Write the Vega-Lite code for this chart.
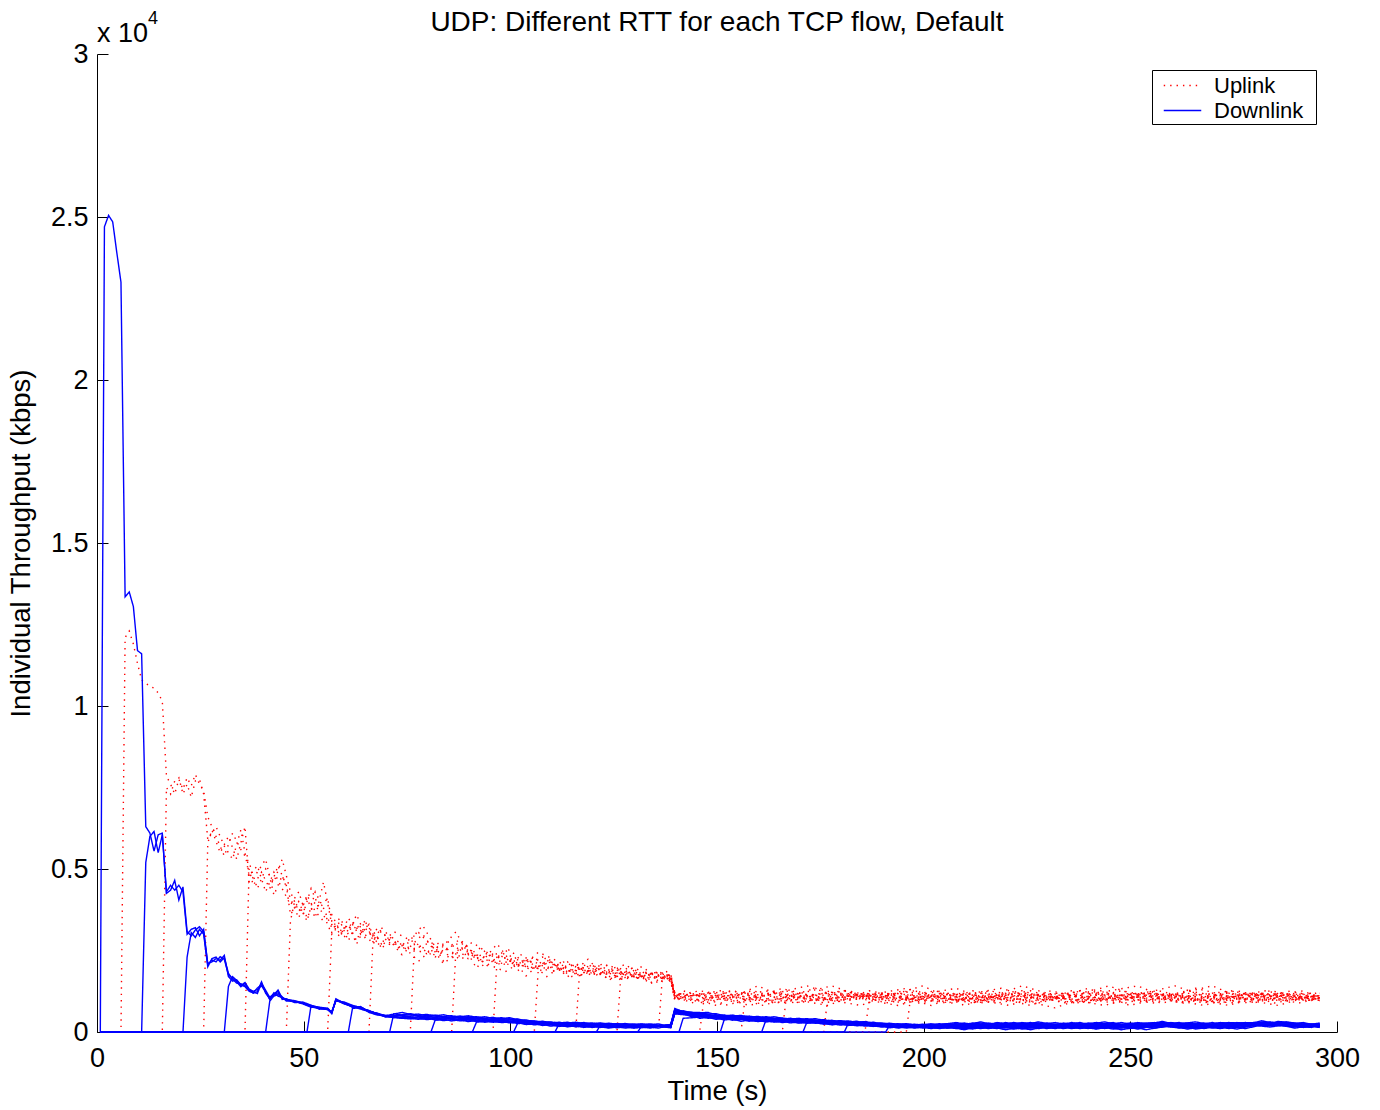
{
"$schema": "https://vega.github.io/schema/vega-lite/v6.json",
"width": 1240, "height": 978,
"autosize": {"type": "none"},
"padding": {"left": 97, "top": 54, "right": 43, "bottom": 78},
"background": "white",
"title": {"text": "UDP: Different RTT for each TCP flow, Default", "font": "Liberation Sans", "fontSize": 28, "fontWeight": "normal", "color": "black", "anchor": "middle", "frame": "group", "offset": 0, "dy": 27},
"config": {"view": {"stroke": null}, "font": "Liberation Sans",
  "axis": {"grid": false, "domainColor": "black", "tickColor": "black", "labelColor": "black", "titleColor": "black", "labelFont": "Liberation Sans", "titleFont": "Liberation Sans", "labelFontSize": 27, "titleFontSize": 27.5, "titleFontWeight": "normal", "tickSize": -11, "labelFlush": false, "labelOverlap": false}
},
"datasets": {
"down": [
{"f":1,"t":0.8,"v":0},{"f":1,"t":1.8,"v":24700},{"f":1,"t":2.8,"v":25050},{"f":1,"t":3.8,"v":24850},{"f":1,"t":4.8,"v":23900},{"f":1,"t":5.8,"v":23000},{"f":1,"t":6.8,"v":13350},{"f":1,"t":7.8,"v":13500},{"f":1,"t":8.8,"v":13050},{"f":1,"t":9.8,"v":11700},{"f":1,"t":10.8,"v":11600},{"f":1,"t":11.8,"v":6300},{"f":1,"t":12.8,"v":6100},{"f":1,"t":13.8,"v":5550},{"f":1,"t":14.8,"v":6050},{"f":1,"t":15.8,"v":6100},{"f":1,"t":16.8,"v":4250},{"f":1,"t":17.8,"v":4350},{"f":1,"t":18.8,"v":4650},{"f":1,"t":19.8,"v":4050},{"f":1,"t":20.8,"v":4450},{"f":1,"t":21.8,"v":3080},{"f":1,"t":22.8,"v":2950},{"f":1,"t":23.8,"v":3130},{"f":1,"t":24.8,"v":3230},{"f":1,"t":25.8,"v":3080},{"f":1,"t":26.8,"v":2060},{"f":1,"t":27.8,"v":2210},{"f":1,"t":28.8,"v":2150},{"f":1,"t":29.8,"v":2310},{"f":1,"t":30.8,"v":2230},{"f":1,"t":31.8,"v":1750},{"f":1,"t":32.8,"v":1650},{"f":1,"t":33.8,"v":1540},{"f":1,"t":34.8,"v":1390},{"f":1,"t":35.8,"v":1490},{"f":1,"t":36.8,"v":1290},{"f":1,"t":37.8,"v":1190},{"f":1,"t":38.8,"v":1240},{"f":1,"t":39.8,"v":1540},{"f":1,"t":40.8,"v":1190},{"f":1,"t":41.8,"v":1030},{"f":1,"t":42.8,"v":1130},{"f":1,"t":43.8,"v":1290},{"f":1,"t":44.8,"v":1030},{"f":1,"t":45.8,"v":980},{"f":1,"t":47.8,"v":930},{"f":1,"t":49.8,"v":880},{"f":1,"t":51.8,"v":780},{"f":1,"t":53.8,"v":720},{"f":1,"t":55.8,"v":700},{"f":1,"t":56.8,"v":620},{"f":1,"t":57.8,"v":980},{"f":1,"t":59.8,"v":900},{"f":1,"t":61.8,"v":800},{"f":1,"t":63.8,"v":760},{"f":1,"t":65.8,"v":640},{"f":1,"t":67.8,"v":560},{"f":1,"t":69.8,"v":500},
{"f":1,"t":73.8,"v":600},{"f":1,"t":81.8,"v":370},{"f":1,"t":89.8,"v":500},{"f":1,"t":97.8,"v":300},{"f":1,"t":105.8,"v":330},{"f":1,"t":113.8,"v":160},{"f":1,"t":121.8,"v":280},{"f":1,"t":129.8,"v":130},{"f":1,"t":138.8,"v":210},{"f":1,"t":139.8,"v":720},{"f":1,"t":145.8,"v":420},{"f":1,"t":153.8,"v":520},{"f":1,"t":161.8,"v":320},{"f":1,"t":169.8,"v":420},{"f":1,"t":177.8,"v":220},{"f":1,"t":185.8,"v":320},{"f":1,"t":193.8,"v":120},{"f":1,"t":201.8,"v":255},{"f":1,"t":209.8,"v":70},{"f":1,"t":217.8,"v":290},{"f":1,"t":225.8,"v":120},{"f":1,"t":233.8,"v":240},{"f":1,"t":241.8,"v":90},{"f":1,"t":249.8,"v":275},{"f":1,"t":257.8,"v":190},{"f":1,"t":265.8,"v":310},{"f":1,"t":273.8,"v":105},{"f":1,"t":281.8,"v":345},{"f":1,"t":289.8,"v":120},{"f":1,"t":295.8,"v":240},
{"f":2,"t":0.8,"v":0},{"f":2,"t":10.8,"v":0},{"f":2,"t":11.8,"v":5200},{"f":2,"t":12.8,"v":6000},{"f":2,"t":13.8,"v":6150},{"f":2,"t":14.8,"v":5500},{"f":2,"t":15.8,"v":6050},{"f":2,"t":16.8,"v":4300},{"f":2,"t":17.8,"v":4500},{"f":2,"t":18.8,"v":4350},{"f":2,"t":19.8,"v":4500},{"f":2,"t":20.8,"v":4300},{"f":2,"t":21.8,"v":3000},{"f":2,"t":22.8,"v":3150},{"f":2,"t":23.8,"v":3200},{"f":2,"t":24.8,"v":2950},{"f":2,"t":25.8,"v":3150},{"f":2,"t":26.8,"v":2100},{"f":2,"t":27.8,"v":2150},{"f":2,"t":28.8,"v":2250},{"f":2,"t":29.8,"v":2200},{"f":2,"t":30.8,"v":2350},{"f":2,"t":31.8,"v":1700},{"f":2,"t":32.8,"v":1560},{"f":2,"t":33.8,"v":1600},{"f":2,"t":34.8,"v":1450},{"f":2,"t":35.8,"v":1390},{"f":2,"t":36.8,"v":1250},{"f":2,"t":37.8,"v":1200},{"f":2,"t":38.8,"v":1350},{"f":2,"t":39.8,"v":1450},{"f":2,"t":40.8,"v":1250},{"f":2,"t":41.8,"v":1000},{"f":2,"t":42.8,"v":1200},{"f":2,"t":43.8,"v":1100},{"f":2,"t":44.8,"v":1060},{"f":2,"t":45.8,"v":1000},{"f":2,"t":47.8,"v":960},{"f":2,"t":49.8,"v":900},{"f":2,"t":51.8,"v":800},{"f":2,"t":53.8,"v":760},{"f":2,"t":55.8,"v":730},{"f":2,"t":56.8,"v":560},{"f":2,"t":57.8,"v":1000},{"f":2,"t":59.8,"v":870},{"f":2,"t":61.8,"v":780},{"f":2,"t":63.8,"v":720},{"f":2,"t":65.8,"v":660},{"f":2,"t":67.8,"v":540},{"f":2,"t":69.8,"v":470},
{"f":2,"t":75.8,"v":400},{"f":2,"t":83.8,"v":530},{"f":2,"t":91.8,"v":320},{"f":2,"t":99.8,"v":440},{"f":2,"t":107.8,"v":200},{"f":2,"t":115.8,"v":300},{"f":2,"t":123.8,"v":120},{"f":2,"t":131.8,"v":250},{"f":2,"t":138.8,"v":140},{"f":2,"t":139.8,"v":560},{"f":2,"t":147.8,"v":600},{"f":2,"t":155.8,"v":330},{"f":2,"t":163.8,"v":470},{"f":2,"t":171.8,"v":270},{"f":2,"t":179.8,"v":350},{"f":2,"t":187.8,"v":170},{"f":2,"t":195.8,"v":255},{"f":2,"t":203.8,"v":105},{"f":2,"t":211.8,"v":275},{"f":2,"t":219.8,"v":70},{"f":2,"t":227.8,"v":240},{"f":2,"t":235.8,"v":155},{"f":2,"t":243.8,"v":310},{"f":2,"t":251.8,"v":90},{"f":2,"t":259.8,"v":290},{"f":2,"t":267.8,"v":140},{"f":2,"t":275.8,"v":255},{"f":2,"t":283.8,"v":155},{"f":2,"t":291.8,"v":290},{"f":2,"t":295.8,"v":175},
{"f":3,"t":0.8,"v":0},{"f":3,"t":20.8,"v":0},{"f":3,"t":21.8,"v":2300},{"f":3,"t":22.8,"v":3050},{"f":3,"t":23.8,"v":2900},{"f":3,"t":24.8,"v":3150},{"f":3,"t":25.8,"v":3000},{"f":3,"t":26.8,"v":2000},{"f":3,"t":27.8,"v":2250},{"f":3,"t":28.8,"v":2300},{"f":3,"t":29.8,"v":2150},{"f":3,"t":30.8,"v":2280},{"f":3,"t":31.8,"v":1800},{"f":3,"t":32.8,"v":1620},{"f":3,"t":33.8,"v":1500},{"f":3,"t":34.8,"v":1480},{"f":3,"t":35.8,"v":1420},{"f":3,"t":36.8,"v":1300},{"f":3,"t":37.8,"v":1230},{"f":3,"t":38.8,"v":1180},{"f":3,"t":39.8,"v":1500},{"f":3,"t":40.8,"v":1280},{"f":3,"t":41.8,"v":1060},{"f":3,"t":42.8,"v":1180},{"f":3,"t":43.8,"v":1250},{"f":3,"t":44.8,"v":1000},{"f":3,"t":45.8,"v":1020},{"f":3,"t":47.8,"v":900},{"f":3,"t":49.8,"v":920},{"f":3,"t":51.8,"v":820},{"f":3,"t":53.8,"v":700},{"f":3,"t":55.8,"v":710},{"f":3,"t":56.8,"v":600},{"f":3,"t":57.8,"v":950},{"f":3,"t":59.8,"v":920},{"f":3,"t":61.8,"v":820},{"f":3,"t":63.8,"v":740},{"f":3,"t":65.8,"v":620},{"f":3,"t":67.8,"v":580},{"f":3,"t":69.8,"v":480},
{"f":3,"t":77.8,"v":550},{"f":3,"t":85.8,"v":340},{"f":3,"t":93.8,"v":470},{"f":3,"t":101.8,"v":260},{"f":3,"t":109.8,"v":310},{"f":3,"t":117.8,"v":140},{"f":3,"t":125.8,"v":260},{"f":3,"t":133.8,"v":120},{"f":3,"t":138.8,"v":230},{"f":3,"t":139.8,"v":680},{"f":3,"t":141.8,"v":540},{"f":3,"t":149.8,"v":560},{"f":3,"t":157.8,"v":330},{"f":3,"t":165.8,"v":430},{"f":3,"t":173.8,"v":270},{"f":3,"t":181.8,"v":340},{"f":3,"t":189.8,"v":150},{"f":3,"t":197.8,"v":240},{"f":3,"t":205.8,"v":120},{"f":3,"t":213.8,"v":310},{"f":3,"t":221.8,"v":90},{"f":3,"t":229.8,"v":220},{"f":3,"t":237.8,"v":155},{"f":3,"t":245.8,"v":290},{"f":3,"t":253.8,"v":70},{"f":3,"t":261.8,"v":255},{"f":3,"t":269.8,"v":155},{"f":3,"t":277.8,"v":275},{"f":3,"t":285.8,"v":220},{"f":3,"t":293.8,"v":140},{"f":3,"t":295.8,"v":205},
{"f":4,"t":0.8,"v":0},{"f":4,"t":30.8,"v":0},{"f":4,"t":31.8,"v":1400},{"f":4,"t":32.8,"v":1700},{"f":4,"t":33.8,"v":1580},{"f":4,"t":34.8,"v":1420},{"f":4,"t":35.8,"v":1520},{"f":4,"t":36.8,"v":1320},{"f":4,"t":37.8,"v":1250},{"f":4,"t":38.8,"v":1300},{"f":4,"t":39.8,"v":1420},{"f":4,"t":40.8,"v":1220},{"f":4,"t":41.8,"v":1000},{"f":4,"t":42.8,"v":1150},{"f":4,"t":43.8,"v":1200},{"f":4,"t":44.8,"v":1080},{"f":4,"t":45.8,"v":950},{"f":4,"t":47.8,"v":940},{"f":4,"t":49.8,"v":860},{"f":4,"t":51.8,"v":760},{"f":4,"t":53.8,"v":740},{"f":4,"t":55.8,"v":680},{"f":4,"t":56.8,"v":580},{"f":4,"t":57.8,"v":1020},{"f":4,"t":59.8,"v":880},{"f":4,"t":61.8,"v":760},{"f":4,"t":63.8,"v":780},{"f":4,"t":65.8,"v":600},{"f":4,"t":67.8,"v":520},{"f":4,"t":69.8,"v":500},
{"f":4,"t":71.8,"v":440},{"f":4,"t":79.8,"v":540},{"f":4,"t":87.8,"v":340},{"f":4,"t":95.8,"v":450},{"f":4,"t":103.8,"v":230},{"f":4,"t":111.8,"v":300},{"f":4,"t":119.8,"v":140},{"f":4,"t":127.8,"v":260},{"f":4,"t":135.8,"v":120},{"f":4,"t":138.8,"v":200},{"f":4,"t":139.8,"v":580},{"f":4,"t":143.8,"v":610},{"f":4,"t":151.8,"v":370},{"f":4,"t":159.8,"v":480},{"f":4,"t":167.8,"v":280},{"f":4,"t":175.8,"v":380},{"f":4,"t":183.8,"v":190},{"f":4,"t":191.8,"v":270},{"f":4,"t":199.8,"v":120},{"f":4,"t":207.8,"v":240},{"f":4,"t":215.8,"v":105},{"f":4,"t":223.8,"v":290},{"f":4,"t":231.8,"v":140},{"f":4,"t":239.8,"v":255},{"f":4,"t":247.8,"v":70},{"f":4,"t":255.8,"v":240},{"f":4,"t":263.8,"v":120},{"f":4,"t":271.8,"v":290},{"f":4,"t":279.8,"v":190},{"f":4,"t":287.8,"v":310},{"f":4,"t":295.8,"v":155},
{"f":5,"t":0.8,"v":0},{"f":5,"t":40.8,"v":0},{"f":5,"t":41.8,"v":950},{"f":5,"t":42.8,"v":1100},{"f":5,"t":43.8,"v":1150},{"f":5,"t":44.8,"v":1050},{"f":5,"t":45.8,"v":990},{"f":5,"t":47.8,"v":950},{"f":5,"t":49.8,"v":880},{"f":5,"t":51.8,"v":790},{"f":5,"t":53.8,"v":730},{"f":5,"t":55.8,"v":720},{"f":5,"t":56.8,"v":600},{"f":5,"t":57.8,"v":980},{"f":5,"t":59.8,"v":860},{"f":5,"t":61.8,"v":790},{"f":5,"t":63.8,"v":700},{"f":5,"t":65.8,"v":630},{"f":5,"t":67.8,"v":550},{"f":5,"t":69.8,"v":490},
{"f":5,"t":73.8,"v":420},{"f":5,"t":81.8,"v":520},{"f":5,"t":89.8,"v":320},{"f":5,"t":97.8,"v":440},{"f":5,"t":105.8,"v":220},{"f":5,"t":113.8,"v":300},{"f":5,"t":121.8,"v":140},{"f":5,"t":129.8,"v":250},{"f":5,"t":138.8,"v":140},{"f":5,"t":139.8,"v":600},{"f":5,"t":145.8,"v":600},{"f":5,"t":153.8,"v":360},{"f":5,"t":161.8,"v":470},{"f":5,"t":169.8,"v":270},{"f":5,"t":177.8,"v":360},{"f":5,"t":185.8,"v":180},{"f":5,"t":193.8,"v":255},{"f":5,"t":201.8,"v":105},{"f":5,"t":209.8,"v":275},{"f":5,"t":217.8,"v":120},{"f":5,"t":225.8,"v":290},{"f":5,"t":233.8,"v":105},{"f":5,"t":241.8,"v":255},{"f":5,"t":249.8,"v":140},{"f":5,"t":257.8,"v":325},{"f":5,"t":265.8,"v":90},{"f":5,"t":273.8,"v":240},{"f":5,"t":281.8,"v":205},{"f":5,"t":289.8,"v":255},{"f":5,"t":295.8,"v":140},
{"f":6,"t":0.8,"v":0},{"f":6,"t":50.8,"v":0},{"f":6,"t":51.8,"v":820},{"f":6,"t":53.8,"v":750},{"f":6,"t":55.8,"v":700},{"f":6,"t":56.8,"v":620},{"f":6,"t":57.8,"v":960},{"f":6,"t":59.8,"v":890},{"f":6,"t":61.8,"v":770},{"f":6,"t":63.8,"v":730},{"f":6,"t":65.8,"v":650},{"f":6,"t":67.8,"v":570},{"f":6,"t":69.8,"v":460},
{"f":6,"t":75.8,"v":560},{"f":6,"t":83.8,"v":350},{"f":6,"t":91.8,"v":470},{"f":6,"t":99.8,"v":280},{"f":6,"t":107.8,"v":330},{"f":6,"t":115.8,"v":160},{"f":6,"t":123.8,"v":270},{"f":6,"t":131.8,"v":130},{"f":6,"t":138.8,"v":220},{"f":6,"t":139.8,"v":700},{"f":6,"t":147.8,"v":420},{"f":6,"t":155.8,"v":510},{"f":6,"t":163.8,"v":300},{"f":6,"t":171.8,"v":410},{"f":6,"t":179.8,"v":210},{"f":6,"t":187.8,"v":300},{"f":6,"t":195.8,"v":120},{"f":6,"t":203.8,"v":255},{"f":6,"t":211.8,"v":90},{"f":6,"t":219.8,"v":290},{"f":6,"t":227.8,"v":120},{"f":6,"t":235.8,"v":255},{"f":6,"t":243.8,"v":105},{"f":6,"t":251.8,"v":290},{"f":6,"t":259.8,"v":155},{"f":6,"t":267.8,"v":275},{"f":6,"t":275.8,"v":90},{"f":6,"t":283.8,"v":310},{"f":6,"t":291.8,"v":140},{"f":6,"t":295.8,"v":220},
{"f":7,"t":0.8,"v":0},{"f":7,"t":60.8,"v":0},{"f":7,"t":61.8,"v":720},{"f":7,"t":63.8,"v":760},{"f":7,"t":65.8,"v":640},{"f":7,"t":67.8,"v":560},{"f":7,"t":69.8,"v":510},
{"f":7,"t":77.8,"v":390},{"f":7,"t":85.8,"v":500},{"f":7,"t":93.8,"v":300},{"f":7,"t":101.8,"v":400},{"f":7,"t":109.8,"v":180},{"f":7,"t":117.8,"v":290},{"f":7,"t":125.8,"v":130},{"f":7,"t":133.8,"v":250},{"f":7,"t":138.8,"v":150},{"f":7,"t":139.8,"v":590},{"f":7,"t":141.8,"v":650},{"f":7,"t":149.8,"v":390},{"f":7,"t":157.8,"v":490},{"f":7,"t":165.8,"v":290},{"f":7,"t":173.8,"v":410},{"f":7,"t":181.8,"v":200},{"f":7,"t":189.8,"v":280},{"f":7,"t":197.8,"v":120},{"f":7,"t":205.8,"v":255},{"f":7,"t":213.8,"v":105},{"f":7,"t":221.8,"v":275},{"f":7,"t":229.8,"v":140},{"f":7,"t":237.8,"v":290},{"f":7,"t":245.8,"v":90},{"f":7,"t":253.8,"v":255},{"f":7,"t":261.8,"v":140},{"f":7,"t":269.8,"v":290},{"f":7,"t":277.8,"v":105},{"f":7,"t":285.8,"v":325},{"f":7,"t":293.8,"v":220},{"f":7,"t":295.8,"v":175},
{"f":8,"t":0.8,"v":0},{"f":8,"t":70.8,"v":0},{"f":8,"t":71.8,"v":560},{"f":8,"t":79.8,"v":380},{"f":8,"t":87.8,"v":490},{"f":8,"t":95.8,"v":300},{"f":8,"t":103.8,"v":370},{"f":8,"t":111.8,"v":170},{"f":8,"t":119.8,"v":280},{"f":8,"t":127.8,"v":120},{"f":8,"t":135.8,"v":250},{"f":8,"t":138.8,"v":150},{"f":8,"t":139.8,"v":660},{"f":8,"t":143.8,"v":470},{"f":8,"t":151.8,"v":520},{"f":8,"t":159.8,"v":320},{"f":8,"t":167.8,"v":420},{"f":8,"t":175.8,"v":240},{"f":8,"t":183.8,"v":330},{"f":8,"t":191.8,"v":130},{"f":8,"t":199.8,"v":240},{"f":8,"t":207.8,"v":105},{"f":8,"t":215.8,"v":275},{"f":8,"t":223.8,"v":90},{"f":8,"t":231.8,"v":240},{"f":8,"t":239.8,"v":105},{"f":8,"t":247.8,"v":290},{"f":8,"t":255.8,"v":120},{"f":8,"t":263.8,"v":240},{"f":8,"t":271.8,"v":105},{"f":8,"t":279.8,"v":290},{"f":8,"t":287.8,"v":205},{"f":8,"t":295.8,"v":255},
{"f":9,"t":0.8,"v":0},{"f":9,"t":80.8,"v":0},{"f":9,"t":81.8,"v":360},{"f":9,"t":89.8,"v":470},{"f":9,"t":97.8,"v":290},{"f":9,"t":105.8,"v":340},{"f":9,"t":113.8,"v":170},{"f":9,"t":121.8,"v":260},{"f":9,"t":129.8,"v":120},{"f":9,"t":138.8,"v":230},{"f":9,"t":139.8,"v":560},{"f":9,"t":145.8,"v":470},{"f":9,"t":153.8,"v":500},{"f":9,"t":161.8,"v":310},{"f":9,"t":169.8,"v":400},{"f":9,"t":177.8,"v":230},{"f":9,"t":185.8,"v":310},{"f":9,"t":193.8,"v":140},{"f":9,"t":201.8,"v":220},{"f":9,"t":209.8,"v":105},{"f":9,"t":217.8,"v":255},{"f":9,"t":225.8,"v":70},{"f":9,"t":233.8,"v":275},{"f":9,"t":241.8,"v":140},{"f":9,"t":249.8,"v":220},{"f":9,"t":257.8,"v":290},{"f":9,"t":265.8,"v":155},{"f":9,"t":273.8,"v":290},{"f":9,"t":281.8,"v":240},{"f":9,"t":289.8,"v":155},{"f":9,"t":295.8,"v":275},
{"f":10,"t":0.8,"v":0},{"f":10,"t":90.8,"v":0},{"f":10,"t":91.8,"v":300},{"f":10,"t":99.8,"v":410},{"f":10,"t":107.8,"v":220},{"f":10,"t":115.8,"v":290},{"f":10,"t":123.8,"v":140},{"f":10,"t":131.8,"v":240},{"f":10,"t":138.8,"v":130},{"f":10,"t":139.8,"v":640},{"f":10,"t":147.8,"v":450},{"f":10,"t":155.8,"v":470},{"f":10,"t":163.8,"v":420},{"f":10,"t":171.8,"v":280},{"f":10,"t":179.8,"v":320},{"f":10,"t":187.8,"v":180},{"f":10,"t":195.8,"v":240},{"f":10,"t":203.8,"v":140},{"f":10,"t":211.8,"v":240},{"f":10,"t":219.8,"v":120},{"f":10,"t":227.8,"v":310},{"f":10,"t":235.8,"v":105},{"f":10,"t":243.8,"v":255},{"f":10,"t":251.8,"v":175},{"f":10,"t":259.8,"v":275},{"f":10,"t":267.8,"v":105},{"f":10,"t":275.8,"v":290},{"f":10,"t":283.8,"v":190},{"f":10,"t":291.8,"v":275},{"f":10,"t":295.8,"v":205},
{"f":11,"t":0.8,"v":0},{"f":11,"t":100.8,"v":0},{"f":11,"t":101.8,"v":280},{"f":11,"t":109.8,"v":290},{"f":11,"t":117.8,"v":180},{"f":11,"t":125.8,"v":240},{"f":11,"t":133.8,"v":150},{"f":11,"t":138.8,"v":210},{"f":11,"t":139.8,"v":660},{"f":11,"t":141.8,"v":560},{"f":11,"t":149.8,"v":430},{"f":11,"t":157.8,"v":380},{"f":11,"t":165.8,"v":400},{"f":11,"t":173.8,"v":300},{"f":11,"t":181.8,"v":310},{"f":11,"t":189.8,"v":190},{"f":11,"t":197.8,"v":190},{"f":11,"t":205.8,"v":155},{"f":11,"t":213.8,"v":275},{"f":11,"t":221.8,"v":140},{"f":11,"t":229.8,"v":255},{"f":11,"t":237.8,"v":120},{"f":11,"t":245.8,"v":240},{"f":11,"t":253.8,"v":175},{"f":11,"t":261.8,"v":290},{"f":11,"t":269.8,"v":120},{"f":11,"t":277.8,"v":240},{"f":11,"t":285.8,"v":290},{"f":11,"t":293.8,"v":190},{"f":11,"t":295.8,"v":155},
{"f":12,"t":0.8,"v":0},{"f":12,"t":110.8,"v":0},{"f":12,"t":111.8,"v":250},{"f":12,"t":119.8,"v":240},{"f":12,"t":127.8,"v":210},{"f":12,"t":135.8,"v":200},{"f":12,"t":138.8,"v":180},{"f":12,"t":139.8,"v":620},{"f":12,"t":143.8,"v":530},{"f":12,"t":151.8,"v":480},{"f":12,"t":159.8,"v":390},{"f":12,"t":167.8,"v":320},{"f":12,"t":175.8,"v":290},{"f":12,"t":183.8,"v":250},{"f":12,"t":191.8,"v":220},{"f":12,"t":199.8,"v":155},{"f":12,"t":207.8,"v":290},{"f":12,"t":215.8,"v":140},{"f":12,"t":223.8,"v":240},{"f":12,"t":231.8,"v":105},{"f":12,"t":239.8,"v":275},{"f":12,"t":247.8,"v":155},{"f":12,"t":255.8,"v":290},{"f":12,"t":263.8,"v":90},{"f":12,"t":271.8,"v":240},{"f":12,"t":279.8,"v":255},{"f":12,"t":287.8,"v":275},{"f":12,"t":295.8,"v":175},
{"f":13,"t":0.8,"v":0},{"f":13,"t":120.8,"v":0},{"f":13,"t":121.8,"v":210},{"f":13,"t":129.8,"v":200},{"f":13,"t":138.8,"v":180},{"f":13,"t":139.8,"v":600},{"f":13,"t":145.8,"v":560},{"f":13,"t":153.8,"v":440},{"f":13,"t":161.8,"v":410},{"f":13,"t":169.8,"v":330},{"f":13,"t":177.8,"v":290},{"f":13,"t":185.8,"v":240},{"f":13,"t":193.8,"v":220},{"f":13,"t":201.8,"v":140},{"f":13,"t":209.8,"v":240},{"f":13,"t":217.8,"v":105},{"f":13,"t":225.8,"v":255},{"f":13,"t":233.8,"v":155},{"f":13,"t":241.8,"v":290},{"f":13,"t":249.8,"v":105},{"f":13,"t":257.8,"v":220},{"f":13,"t":265.8,"v":240},{"f":13,"t":273.8,"v":155},{"f":13,"t":281.8,"v":310},{"f":13,"t":289.8,"v":205},{"f":13,"t":295.8,"v":190},
{"f":14,"t":0.8,"v":0},{"f":14,"t":130.8,"v":0},{"f":14,"t":131.8,"v":190},{"f":14,"t":138.8,"v":190},{"f":14,"t":139.8,"v":670},{"f":14,"t":147.8,"v":520},{"f":14,"t":155.8,"v":420},{"f":14,"t":163.8,"v":370},{"f":14,"t":171.8,"v":350},{"f":14,"t":179.8,"v":280},{"f":14,"t":187.8,"v":250},{"f":14,"t":195.8,"v":155},{"f":14,"t":203.8,"v":220},{"f":14,"t":211.8,"v":120},{"f":14,"t":219.8,"v":255},{"f":14,"t":227.8,"v":105},{"f":14,"t":235.8,"v":290},{"f":14,"t":243.8,"v":140},{"f":14,"t":251.8,"v":240},{"f":14,"t":259.8,"v":220},{"f":14,"t":267.8,"v":255},{"f":14,"t":275.8,"v":140},{"f":14,"t":283.8,"v":275},{"f":14,"t":291.8,"v":190},{"f":14,"t":295.8,"v":240},
{"f":15,"t":0.8,"v":0},{"f":15,"t":140.8,"v":0},{"f":15,"t":141.8,"v":420},{"f":15,"t":149.8,"v":490},{"f":15,"t":157.8,"v":430},{"f":15,"t":165.8,"v":350},{"f":15,"t":173.8,"v":360},{"f":15,"t":181.8,"v":260},{"f":15,"t":189.8,"v":230},{"f":15,"t":197.8,"v":140},{"f":15,"t":205.8,"v":240},{"f":15,"t":213.8,"v":120},{"f":15,"t":221.8,"v":290},{"f":15,"t":229.8,"v":105},{"f":15,"t":237.8,"v":240},{"f":15,"t":245.8,"v":155},{"f":15,"t":253.8,"v":275},{"f":15,"t":261.8,"v":120},{"f":15,"t":269.8,"v":240},{"f":15,"t":277.8,"v":175},{"f":15,"t":285.8,"v":275},{"f":15,"t":293.8,"v":155},{"f":15,"t":295.8,"v":220},
{"f":16,"t":0.8,"v":0},{"f":16,"t":150.8,"v":0},{"f":16,"t":151.8,"v":400},{"f":16,"t":159.8,"v":420},{"f":16,"t":167.8,"v":370},{"f":16,"t":175.8,"v":330},{"f":16,"t":183.8,"v":240},{"f":16,"t":191.8,"v":190},{"f":16,"t":199.8,"v":205},{"f":16,"t":207.8,"v":140},{"f":16,"t":215.8,"v":255},{"f":16,"t":223.8,"v":155},{"f":16,"t":231.8,"v":290},{"f":16,"t":239.8,"v":120},{"f":16,"t":247.8,"v":240},{"f":16,"t":255.8,"v":155},{"f":16,"t":263.8,"v":275},{"f":16,"t":271.8,"v":140},{"f":16,"t":279.8,"v":255},{"f":16,"t":287.8,"v":240},{"f":16,"t":295.8,"v":190},
{"f":17,"t":0.8,"v":0},{"f":17,"t":160.8,"v":0},{"f":17,"t":161.8,"v":350},{"f":17,"t":169.8,"v":360},{"f":17,"t":177.8,"v":310},{"f":17,"t":185.8,"v":260},{"f":17,"t":193.8,"v":175},{"f":17,"t":201.8,"v":205},{"f":17,"t":209.8,"v":120},{"f":17,"t":217.8,"v":275},{"f":17,"t":225.8,"v":155},{"f":17,"t":233.8,"v":255},{"f":17,"t":241.8,"v":105},{"f":17,"t":249.8,"v":255},{"f":17,"t":257.8,"v":275},{"f":17,"t":265.8,"v":120},{"f":17,"t":273.8,"v":255},{"f":17,"t":281.8,"v":275},{"f":17,"t":289.8,"v":175},{"f":17,"t":295.8,"v":220},
{"f":18,"t":0.8,"v":0},{"f":18,"t":170.8,"v":0},{"f":18,"t":171.8,"v":320},{"f":18,"t":179.8,"v":290},{"f":18,"t":187.8,"v":230},{"f":18,"t":195.8,"v":205},{"f":18,"t":203.8,"v":120},{"f":18,"t":211.8,"v":255},{"f":18,"t":219.8,"v":155},{"f":18,"t":227.8,"v":275},{"f":18,"t":235.8,"v":120},{"f":18,"t":243.8,"v":240},{"f":18,"t":251.8,"v":140},{"f":18,"t":259.8,"v":255},{"f":18,"t":267.8,"v":190},{"f":18,"t":275.8,"v":240},{"f":18,"t":283.8,"v":290},{"f":18,"t":291.8,"v":155},{"f":18,"t":295.8,"v":205},
{"f":19,"t":0.8,"v":0},{"f":19,"t":180.8,"v":0},{"f":19,"t":181.8,"v":270},{"f":19,"t":189.8,"v":240},{"f":19,"t":197.8,"v":205},{"f":19,"t":205.8,"v":120},{"f":19,"t":213.8,"v":240},{"f":19,"t":221.8,"v":155},{"f":19,"t":229.8,"v":275},{"f":19,"t":237.8,"v":105},{"f":19,"t":245.8,"v":255},{"f":19,"t":253.8,"v":140},{"f":19,"t":261.8,"v":240},{"f":19,"t":269.8,"v":155},{"f":19,"t":277.8,"v":290},{"f":19,"t":285.8,"v":255},{"f":19,"t":293.8,"v":175},{"f":19,"t":295.8,"v":205},
{"f":20,"t":0.8,"v":0},{"f":20,"t":190.8,"v":0},{"f":20,"t":191.8,"v":210},{"f":20,"t":199.8,"v":190},{"f":20,"t":207.8,"v":255},{"f":20,"t":215.8,"v":120},{"f":20,"t":223.8,"v":275},{"f":20,"t":231.8,"v":155},{"f":20,"t":239.8,"v":240},{"f":20,"t":247.8,"v":120},{"f":20,"t":255.8,"v":255},{"f":20,"t":263.8,"v":155},{"f":20,"t":271.8,"v":275},{"f":20,"t":279.8,"v":205},{"f":20,"t":287.8,"v":290},{"f":20,"t":295.8,"v":155}
],
"up": [
{"f":1,"t":0.8,"v":0},{"f":1,"t":5.8,"v":0},{"f":1,"t":6.8,"v":12100},{"f":1,"t":7.8,"v":12300},{"f":1,"t":8.8,"v":11900},{"f":1,"t":9.8,"v":11300},{"f":1,"t":10.8,"v":10800},{"f":1,"t":11.8,"v":10700},{"f":1,"t":12.8,"v":10600},{"f":1,"t":13.8,"v":10550},{"f":1,"t":14.8,"v":10400},{"f":1,"t":15.8,"v":10150},{"f":1,"t":16.8,"v":7850},{"f":1,"t":17.8,"v":7600},{"f":1,"t":18.8,"v":7300},{"f":1,"t":19.8,"v":7750},{"f":1,"t":20.8,"v":7450},{"f":1,"t":21.8,"v":7800},{"f":1,"t":22.8,"v":7550},{"f":1,"t":23.8,"v":7900},{"f":1,"t":24.8,"v":7600},{"f":1,"t":25.8,"v":7400},{"f":1,"t":26.8,"v":6600},{"f":1,"t":28.8,"v":6000},{"f":1,"t":30.8,"v":5400},{"f":1,"t":32.8,"v":6100},{"f":1,"t":34.8,"v":5600},{"f":1,"t":36.8,"v":5200},{"f":1,"t":38.8,"v":4400},{"f":1,"t":40.8,"v":5000},{"f":1,"t":42.8,"v":4600},{"f":1,"t":44.8,"v":5300},{"f":1,"t":46.8,"v":4300},{"f":1,"t":48.8,"v":3700},{"f":1,"t":50.8,"v":4100},{"f":1,"t":52.8,"v":3500},{"f":1,"t":54.8,"v":4600},{"f":1,"t":56.8,"v":3300},{"f":1,"t":58.8,"v":2900},{"f":1,"t":60.8,"v":3500},{"f":1,"t":62.8,"v":3100},{"f":1,"t":64.8,"v":3400},{"f":1,"t":66.8,"v":2800},{"f":1,"t":68.8,"v":3200},
{"f":1,"t":73.8,"v":2520},{"f":1,"t":78.8,"v":3270},{"f":1,"t":83.8,"v":2180},{"f":1,"t":88.8,"v":2750},{"f":1,"t":93.8,"v":1970},{"f":1,"t":98.8,"v":2520},{"f":1,"t":103.8,"v":1720},{"f":1,"t":108.8,"v":2300},{"f":1,"t":113.8,"v":1690},{"f":1,"t":118.8,"v":2230},{"f":1,"t":123.8,"v":1580},{"f":1,"t":128.8,"v":2000},{"f":1,"t":133.8,"v":1480},{"f":1,"t":138.8,"v":1780},{"f":1,"t":139.8,"v":1190},{"f":1,"t":149.8,"v":815},{"f":1,"t":159.8,"v":1415},{"f":1,"t":169.8,"v":890},{"f":1,"t":179.8,"v":1190},{"f":1,"t":189.8,"v":1040},{"f":1,"t":199.8,"v":1415},{"f":1,"t":209.8,"v":815},{"f":1,"t":219.8,"v":1190},{"f":1,"t":229.8,"v":965},{"f":1,"t":239.8,"v":1340},{"f":1,"t":249.8,"v":815},{"f":1,"t":259.8,"v":1115},{"f":1,"t":269.8,"v":1415},{"f":1,"t":279.8,"v":890},{"f":1,"t":289.8,"v":1190},{"f":1,"t":295.8,"v":1040},
{"f":2,"t":0.8,"v":0},{"f":2,"t":15.8,"v":0},{"f":2,"t":16.8,"v":7500},{"f":2,"t":17.8,"v":7300},{"f":2,"t":18.8,"v":7700},{"f":2,"t":19.8,"v":7800},{"f":2,"t":20.8,"v":7300},{"f":2,"t":21.8,"v":7600},{"f":2,"t":22.8,"v":7200},{"f":2,"t":23.8,"v":7700},{"f":2,"t":24.8,"v":7750},{"f":2,"t":25.8,"v":7300},{"f":2,"t":26.8,"v":5900},{"f":2,"t":28.8,"v":6300},{"f":2,"t":30.8,"v":5700},{"f":2,"t":32.8,"v":5300},{"f":2,"t":34.8,"v":6200},{"f":2,"t":36.8,"v":4800},{"f":2,"t":38.8,"v":5100},{"f":2,"t":40.8,"v":4300},{"f":2,"t":42.8,"v":4900},{"f":2,"t":44.8,"v":4400},{"f":2,"t":46.8,"v":3900},{"f":2,"t":48.8,"v":4300},{"f":2,"t":50.8,"v":3500},{"f":2,"t":52.8,"v":4000},{"f":2,"t":54.8,"v":3600},{"f":2,"t":56.8,"v":3000},{"f":2,"t":58.8,"v":3400},{"f":2,"t":60.8,"v":2800},{"f":2,"t":62.8,"v":3300},{"f":2,"t":64.8,"v":2900},{"f":2,"t":66.8,"v":3100},{"f":2,"t":68.8,"v":2700},
{"f":2,"t":71.8,"v":3080},{"f":2,"t":76.8,"v":2750},{"f":2,"t":81.8,"v":2350},{"f":2,"t":86.8,"v":3070},{"f":2,"t":91.8,"v":1960},{"f":2,"t":96.8,"v":2700},{"f":2,"t":101.8,"v":1880},{"f":2,"t":106.8,"v":2450},{"f":2,"t":111.8,"v":2150},{"f":2,"t":116.8,"v":1730},{"f":2,"t":121.8,"v":2050},{"f":2,"t":126.8,"v":1590},{"f":2,"t":131.8,"v":2010},{"f":2,"t":136.8,"v":1550},{"f":2,"t":138.8,"v":1700},{"f":2,"t":139.8,"v":1040},{"f":2,"t":141.8,"v":1265},{"f":2,"t":151.8,"v":815},{"f":2,"t":161.8,"v":1115},{"f":2,"t":171.8,"v":1415},{"f":2,"t":181.8,"v":965},{"f":2,"t":191.8,"v":1190},{"f":2,"t":201.8,"v":815},{"f":2,"t":211.8,"v":1265},{"f":2,"t":221.8,"v":1040},{"f":2,"t":231.8,"v":740},{"f":2,"t":241.8,"v":1190},{"f":2,"t":251.8,"v":1415},{"f":2,"t":261.8,"v":890},{"f":2,"t":271.8,"v":1115},{"f":2,"t":281.8,"v":965},{"f":2,"t":291.8,"v":1265},{"f":2,"t":295.8,"v":1040},
{"f":3,"t":0.8,"v":0},{"f":3,"t":25.8,"v":0},{"f":3,"t":26.8,"v":5800},{"f":3,"t":27.8,"v":6200},{"f":3,"t":29.8,"v":5500},{"f":3,"t":31.8,"v":6000},{"f":3,"t":33.8,"v":5300},{"f":3,"t":35.8,"v":6300},{"f":3,"t":36.8,"v":4600},{"f":3,"t":38.8,"v":4900},{"f":3,"t":40.8,"v":5300},{"f":3,"t":42.8,"v":4200},{"f":3,"t":44.8,"v":4800},{"f":3,"t":46.8,"v":4100},{"f":3,"t":48.8,"v":3500},{"f":3,"t":50.8,"v":4200},{"f":3,"t":52.8,"v":3700},{"f":3,"t":54.8,"v":3400},{"f":3,"t":56.8,"v":3600},{"f":3,"t":58.8,"v":3100},{"f":3,"t":60.8,"v":3300},{"f":3,"t":62.8,"v":2700},{"f":3,"t":64.8,"v":3200},{"f":3,"t":66.8,"v":2900},{"f":3,"t":68.8,"v":2600},
{"f":3,"t":72.8,"v":2780},{"f":3,"t":77.8,"v":2170},{"f":3,"t":82.8,"v":2750},{"f":3,"t":87.8,"v":2220},{"f":3,"t":92.8,"v":2580},{"f":3,"t":97.8,"v":2030},{"f":3,"t":102.8,"v":2380},{"f":3,"t":107.8,"v":1850},{"f":3,"t":112.8,"v":2150},{"f":3,"t":117.8,"v":1900},{"f":3,"t":122.8,"v":1750},{"f":3,"t":127.8,"v":2080},{"f":3,"t":132.8,"v":1580},{"f":3,"t":137.8,"v":1850},{"f":3,"t":138.8,"v":1620},{"f":3,"t":139.8,"v":1115},{"f":3,"t":143.8,"v":890},{"f":3,"t":153.8,"v":1265},{"f":3,"t":163.8,"v":965},{"f":3,"t":173.8,"v":1340},{"f":3,"t":183.8,"v":1040},{"f":3,"t":193.8,"v":815},{"f":3,"t":203.8,"v":1190},{"f":3,"t":213.8,"v":965},{"f":3,"t":223.8,"v":1415},{"f":3,"t":233.8,"v":1040},{"f":3,"t":243.8,"v":815},{"f":3,"t":253.8,"v":1190},{"f":3,"t":263.8,"v":1040},{"f":3,"t":273.8,"v":815},{"f":3,"t":283.8,"v":1265},{"f":3,"t":293.8,"v":1040},{"f":3,"t":295.8,"v":965},
{"f":4,"t":0.8,"v":0},{"f":4,"t":35.8,"v":0},{"f":4,"t":36.8,"v":5000},{"f":4,"t":37.8,"v":4500},{"f":4,"t":39.8,"v":4900},{"f":4,"t":41.8,"v":4400},{"f":4,"t":43.8,"v":5100},{"f":4,"t":45.8,"v":4500},{"f":4,"t":46.8,"v":3600},{"f":4,"t":48.8,"v":4000},{"f":4,"t":50.8,"v":3400},{"f":4,"t":52.8,"v":4300},{"f":4,"t":54.8,"v":3800},{"f":4,"t":56.8,"v":3200},{"f":4,"t":58.8,"v":3500},{"f":4,"t":60.8,"v":3000},{"f":4,"t":62.8,"v":3600},{"f":4,"t":64.8,"v":3000},{"f":4,"t":66.8,"v":2700},{"f":4,"t":68.8,"v":3100},
{"f":4,"t":73.8,"v":2370},{"f":4,"t":78.8,"v":3000},{"f":4,"t":83.8,"v":2100},{"f":4,"t":88.8,"v":2590},{"f":4,"t":93.8,"v":2120},{"f":4,"t":98.8,"v":1850},{"f":4,"t":103.8,"v":2250},{"f":4,"t":108.8,"v":1700},{"f":4,"t":113.8,"v":2150},{"f":4,"t":118.8,"v":1750},{"f":4,"t":123.8,"v":2070},{"f":4,"t":128.8,"v":1650},{"f":4,"t":133.8,"v":1830},{"f":4,"t":138.8,"v":1550},{"f":4,"t":139.8,"v":1190},{"f":4,"t":145.8,"v":1115},{"f":4,"t":155.8,"v":890},{"f":4,"t":165.8,"v":1340},{"f":4,"t":175.8,"v":890},{"f":4,"t":185.8,"v":1115},{"f":4,"t":195.8,"v":1340},{"f":4,"t":205.8,"v":965},{"f":4,"t":215.8,"v":1115},{"f":4,"t":225.8,"v":815},{"f":4,"t":235.8,"v":1265},{"f":4,"t":245.8,"v":1040},{"f":4,"t":255.8,"v":890},{"f":4,"t":265.8,"v":1340},{"f":4,"t":275.8,"v":1040},{"f":4,"t":285.8,"v":815},{"f":4,"t":295.8,"v":1190},
{"f":5,"t":0.8,"v":0},{"f":5,"t":45.8,"v":0},{"f":5,"t":46.8,"v":3400},{"f":5,"t":47.8,"v":4000},{"f":5,"t":49.8,"v":3600},{"f":5,"t":51.8,"v":4400},{"f":5,"t":53.8,"v":3800},{"f":5,"t":55.8,"v":4100},{"f":5,"t":56.8,"v":3400},{"f":5,"t":58.8,"v":3000},{"f":5,"t":60.8,"v":3300},{"f":5,"t":62.8,"v":2800},{"f":5,"t":64.8,"v":3400},{"f":5,"t":66.8,"v":3000},{"f":5,"t":68.8,"v":2800},
{"f":5,"t":74.8,"v":2620},{"f":5,"t":79.8,"v":2400},{"f":5,"t":84.8,"v":2780},{"f":5,"t":89.8,"v":2250},{"f":5,"t":94.8,"v":2420},{"f":5,"t":99.8,"v":2230},{"f":5,"t":104.8,"v":1920},{"f":5,"t":109.8,"v":2150},{"f":5,"t":114.8,"v":1850},{"f":5,"t":119.8,"v":2050},{"f":5,"t":124.8,"v":1640},{"f":5,"t":129.8,"v":1980},{"f":5,"t":134.8,"v":1660},{"f":5,"t":138.8,"v":1630},{"f":5,"t":139.8,"v":1040},{"f":5,"t":147.8,"v":1190},{"f":5,"t":157.8,"v":815},{"f":5,"t":167.8,"v":1115},{"f":5,"t":177.8,"v":1415},{"f":5,"t":187.8,"v":965},{"f":5,"t":197.8,"v":1115},{"f":5,"t":207.8,"v":1340},{"f":5,"t":217.8,"v":890},{"f":5,"t":227.8,"v":1115},{"f":5,"t":237.8,"v":965},{"f":5,"t":247.8,"v":1265},{"f":5,"t":257.8,"v":1040},{"f":5,"t":267.8,"v":815},{"f":5,"t":277.8,"v":1190},{"f":5,"t":287.8,"v":1040},{"f":5,"t":295.8,"v":1115},
{"f":6,"t":0.8,"v":0},{"f":6,"t":55.8,"v":0},{"f":6,"t":56.8,"v":3100},{"f":6,"t":57.8,"v":3300},{"f":6,"t":59.8,"v":2900},{"f":6,"t":61.8,"v":3400},{"f":6,"t":63.8,"v":3000},{"f":6,"t":65.8,"v":3300},{"f":6,"t":66.8,"v":2900},{"f":6,"t":68.8,"v":2600},
{"f":6,"t":70.8,"v":2950},{"f":6,"t":75.8,"v":2520},{"f":6,"t":80.8,"v":2750},{"f":6,"t":85.8,"v":2280},{"f":6,"t":90.8,"v":2430},{"f":6,"t":95.8,"v":2150},{"f":6,"t":100.8,"v":2050},{"f":6,"t":105.8,"v":2280},{"f":6,"t":110.8,"v":1850},{"f":6,"t":115.8,"v":2080},{"f":6,"t":120.8,"v":1750},{"f":6,"t":125.8,"v":1930},{"f":6,"t":130.8,"v":1660},{"f":6,"t":135.8,"v":1850},{"f":6,"t":138.8,"v":1700},{"f":6,"t":139.8,"v":1115},{"f":6,"t":140.8,"v":1040},{"f":6,"t":150.8,"v":1265},{"f":6,"t":160.8,"v":815},{"f":6,"t":170.8,"v":1115},{"f":6,"t":180.8,"v":1265},{"f":6,"t":190.8,"v":890},{"f":6,"t":200.8,"v":1115},{"f":6,"t":210.8,"v":1040},{"f":6,"t":220.8,"v":815},{"f":6,"t":230.8,"v":1265},{"f":6,"t":240.8,"v":965},{"f":6,"t":250.8,"v":1115},{"f":6,"t":260.8,"v":1415},{"f":6,"t":270.8,"v":965},{"f":6,"t":280.8,"v":1115},{"f":6,"t":290.8,"v":890},{"f":6,"t":295.8,"v":1040},
{"f":7,"t":0.8,"v":0},{"f":7,"t":65.8,"v":0},{"f":7,"t":66.8,"v":2900},{"f":7,"t":67.8,"v":3200},
{"f":7,"t":72.8,"v":2570},{"f":7,"t":77.8,"v":3050},{"f":7,"t":82.8,"v":2400},{"f":7,"t":87.8,"v":2840},{"f":7,"t":92.8,"v":2220},{"f":7,"t":97.8,"v":2170},{"f":7,"t":102.8,"v":2050},{"f":7,"t":107.8,"v":2300},{"f":7,"t":112.8,"v":1850},{"f":7,"t":117.8,"v":1900},{"f":7,"t":122.8,"v":2100},{"f":7,"t":127.8,"v":1620},{"f":7,"t":132.8,"v":1830},{"f":7,"t":137.8,"v":1700},{"f":7,"t":138.8,"v":1580},{"f":7,"t":139.8,"v":1040},{"f":7,"t":144.8,"v":1190},{"f":7,"t":154.8,"v":965},{"f":7,"t":164.8,"v":1190},{"f":7,"t":174.8,"v":1040},{"f":7,"t":184.8,"v":815},{"f":7,"t":194.8,"v":1265},{"f":7,"t":204.8,"v":1040},{"f":7,"t":214.8,"v":890},{"f":7,"t":224.8,"v":1190},{"f":7,"t":234.8,"v":1040},{"f":7,"t":244.8,"v":1415},{"f":7,"t":254.8,"v":965},{"f":7,"t":264.8,"v":1115},{"f":7,"t":274.8,"v":1265},{"f":7,"t":284.8,"v":890},{"f":7,"t":294.8,"v":1115},{"f":7,"t":295.8,"v":1040},
{"f":8,"t":0.8,"v":0},{"f":8,"t":75.8,"v":0},{"f":8,"t":76.8,"v":2700},{"f":8,"t":81.8,"v":2300},{"f":8,"t":86.8,"v":2720},{"f":8,"t":91.8,"v":2250},{"f":8,"t":96.8,"v":2400},{"f":8,"t":101.8,"v":2050},{"f":8,"t":106.8,"v":1950},{"f":8,"t":111.8,"v":2000},{"f":8,"t":116.8,"v":1730},{"f":8,"t":121.8,"v":1950},{"f":8,"t":126.8,"v":1620},{"f":8,"t":131.8,"v":1830},{"f":8,"t":136.8,"v":1700},{"f":8,"t":138.8,"v":1650},{"f":8,"t":139.8,"v":1115},{"f":8,"t":146.8,"v":890},{"f":8,"t":156.8,"v":1190},{"f":8,"t":166.8,"v":1040},{"f":8,"t":176.8,"v":815},{"f":8,"t":186.8,"v":1265},{"f":8,"t":196.8,"v":1040},{"f":8,"t":206.8,"v":890},{"f":8,"t":216.8,"v":1190},{"f":8,"t":226.8,"v":1040},{"f":8,"t":236.8,"v":890},{"f":8,"t":246.8,"v":1115},{"f":8,"t":256.8,"v":1265},{"f":8,"t":266.8,"v":965},{"f":8,"t":276.8,"v":1115},{"f":8,"t":286.8,"v":1190},{"f":8,"t":295.8,"v":965},
{"f":9,"t":0.8,"v":0},{"f":9,"t":85.8,"v":0},{"f":9,"t":86.8,"v":2420},{"f":9,"t":90.8,"v":2750},{"f":9,"t":95.8,"v":2320},{"f":9,"t":100.8,"v":2230},{"f":9,"t":105.8,"v":2150},{"f":9,"t":110.8,"v":1850},{"f":9,"t":115.8,"v":2100},{"f":9,"t":120.8,"v":1750},{"f":9,"t":125.8,"v":1820},{"f":9,"t":130.8,"v":1650},{"f":9,"t":135.8,"v":1850},{"f":9,"t":138.8,"v":1720},{"f":9,"t":139.8,"v":1190},{"f":9,"t":148.8,"v":1040},{"f":9,"t":158.8,"v":1265},{"f":9,"t":168.8,"v":890},{"f":9,"t":178.8,"v":1115},{"f":9,"t":188.8,"v":1190},{"f":9,"t":198.8,"v":890},{"f":9,"t":208.8,"v":1115},{"f":9,"t":218.8,"v":1340},{"f":9,"t":228.8,"v":965},{"f":9,"t":238.8,"v":1115},{"f":9,"t":248.8,"v":890},{"f":9,"t":258.8,"v":1190},{"f":9,"t":268.8,"v":1040},{"f":9,"t":278.8,"v":890},{"f":9,"t":288.8,"v":1265},{"f":9,"t":295.8,"v":1040},
{"f":10,"t":0.8,"v":0},{"f":10,"t":95.8,"v":0},{"f":10,"t":96.8,"v":2250},{"f":10,"t":99.8,"v":2530},{"f":10,"t":104.8,"v":1930},{"f":10,"t":109.8,"v":2150},{"f":10,"t":114.8,"v":1700},{"f":10,"t":119.8,"v":1900},{"f":10,"t":124.8,"v":1800},{"f":10,"t":129.8,"v":1820},{"f":10,"t":134.8,"v":1480},{"f":10,"t":138.8,"v":1800},{"f":10,"t":139.8,"v":1040},{"f":10,"t":142.8,"v":965},{"f":10,"t":152.8,"v":1115},{"f":10,"t":162.8,"v":1265},{"f":10,"t":172.8,"v":965},{"f":10,"t":182.8,"v":1115},{"f":10,"t":192.8,"v":1040},{"f":10,"t":202.8,"v":1265},{"f":10,"t":212.8,"v":890},{"f":10,"t":222.8,"v":1115},{"f":10,"t":232.8,"v":1190},{"f":10,"t":242.8,"v":965},{"f":10,"t":252.8,"v":1115},{"f":10,"t":262.8,"v":890},{"f":10,"t":272.8,"v":1190},{"f":10,"t":282.8,"v":1115},{"f":10,"t":292.8,"v":965},{"f":10,"t":295.8,"v":1040},
{"f":11,"t":0.8,"v":0},{"f":11,"t":105.8,"v":0},{"f":11,"t":106.8,"v":2000},{"f":11,"t":108.8,"v":2180},{"f":11,"t":113.8,"v":1850},{"f":11,"t":118.8,"v":2080},{"f":11,"t":123.8,"v":1620},{"f":11,"t":128.8,"v":1830},{"f":11,"t":133.8,"v":1650},{"f":11,"t":138.8,"v":1700},{"f":11,"t":139.8,"v":1115},{"f":11,"t":145.8,"v":1265},{"f":11,"t":155.8,"v":1040},{"f":11,"t":165.8,"v":890},{"f":11,"t":175.8,"v":1190},{"f":11,"t":185.8,"v":1040},{"f":11,"t":195.8,"v":890},{"f":11,"t":205.8,"v":1190},{"f":11,"t":215.8,"v":1040},{"f":11,"t":225.8,"v":1265},{"f":11,"t":235.8,"v":890},{"f":11,"t":245.8,"v":1115},{"f":11,"t":255.8,"v":1190},{"f":11,"t":265.8,"v":965},{"f":11,"t":275.8,"v":890},{"f":11,"t":285.8,"v":1190},{"f":11,"t":295.8,"v":965},
{"f":12,"t":0.8,"v":0},{"f":12,"t":115.8,"v":0},{"f":12,"t":116.8,"v":1950},{"f":12,"t":120.8,"v":1750},{"f":12,"t":125.8,"v":2000},{"f":12,"t":130.8,"v":1650},{"f":12,"t":135.8,"v":1700},{"f":12,"t":138.8,"v":1630},{"f":12,"t":139.8,"v":1040},{"f":12,"t":147.8,"v":965},{"f":12,"t":157.8,"v":1115},{"f":12,"t":167.8,"v":1265},{"f":12,"t":177.8,"v":965},{"f":12,"t":187.8,"v":1040},{"f":12,"t":197.8,"v":1265},{"f":12,"t":207.8,"v":965},{"f":12,"t":217.8,"v":1115},{"f":12,"t":227.8,"v":890},{"f":12,"t":237.8,"v":1190},{"f":12,"t":247.8,"v":1115},{"f":12,"t":257.8,"v":890},{"f":12,"t":267.8,"v":1190},{"f":12,"t":277.8,"v":1040},{"f":12,"t":287.8,"v":965},{"f":12,"t":295.8,"v":1115},
{"f":13,"t":0.8,"v":0},{"f":13,"t":125.8,"v":0},{"f":13,"t":126.8,"v":1850},{"f":13,"t":130.8,"v":1660},{"f":13,"t":134.8,"v":1830},{"f":13,"t":138.8,"v":1720},{"f":13,"t":139.8,"v":1115},{"f":13,"t":149.8,"v":1115},{"f":13,"t":159.8,"v":965},{"f":13,"t":169.8,"v":1190},{"f":13,"t":179.8,"v":965},{"f":13,"t":189.8,"v":1190},{"f":13,"t":199.8,"v":965},{"f":13,"t":209.8,"v":1190},{"f":13,"t":219.8,"v":965},{"f":13,"t":229.8,"v":1115},{"f":13,"t":239.8,"v":890},{"f":13,"t":249.8,"v":1190},{"f":13,"t":259.8,"v":1040},{"f":13,"t":269.8,"v":965},{"f":13,"t":279.8,"v":1190},{"f":13,"t":289.8,"v":1040},{"f":13,"t":295.8,"v":1115},
{"f":14,"t":0.8,"v":0},{"f":14,"t":135.8,"v":0},{"f":14,"t":136.8,"v":1700},{"f":14,"t":138.8,"v":1550},{"f":14,"t":139.8,"v":965},{"f":14,"t":143.8,"v":1115},{"f":14,"t":153.8,"v":1265},{"f":14,"t":163.8,"v":890},{"f":14,"t":173.8,"v":1115},{"f":14,"t":183.8,"v":1190},{"f":14,"t":193.8,"v":965},{"f":14,"t":203.8,"v":1115},{"f":14,"t":213.8,"v":1190},{"f":14,"t":223.8,"v":890},{"f":14,"t":233.8,"v":1115},{"f":14,"t":243.8,"v":1040},{"f":14,"t":253.8,"v":965},{"f":14,"t":263.8,"v":1265},{"f":14,"t":273.8,"v":1040},{"f":14,"t":283.8,"v":965},{"f":14,"t":293.8,"v":1190},{"f":14,"t":295.8,"v":1040},
{"f":15,"t":0.8,"v":0},{"f":15,"t":145.8,"v":0},{"f":15,"t":146.8,"v":965},{"f":15,"t":151.8,"v":1190},{"f":15,"t":161.8,"v":965},{"f":15,"t":171.8,"v":1115},{"f":15,"t":181.8,"v":1265},{"f":15,"t":191.8,"v":965},{"f":15,"t":201.8,"v":1115},{"f":15,"t":211.8,"v":890},{"f":15,"t":221.8,"v":1190},{"f":15,"t":231.8,"v":1040},{"f":15,"t":241.8,"v":965},{"f":15,"t":251.8,"v":1190},{"f":15,"t":261.8,"v":1115},{"f":15,"t":271.8,"v":890},{"f":15,"t":281.8,"v":1190},{"f":15,"t":291.8,"v":1040},{"f":15,"t":295.8,"v":1115},
{"f":16,"t":0.8,"v":0},{"f":16,"t":155.8,"v":0},{"f":16,"t":156.8,"v":1040},{"f":16,"t":163.8,"v":1190},{"f":16,"t":173.8,"v":965},{"f":16,"t":183.8,"v":1115},{"f":16,"t":193.8,"v":1190},{"f":16,"t":203.8,"v":965},{"f":16,"t":213.8,"v":1040},{"f":16,"t":223.8,"v":1265},{"f":16,"t":233.8,"v":890},{"f":16,"t":243.8,"v":1190},{"f":16,"t":253.8,"v":1040},{"f":16,"t":263.8,"v":965},{"f":16,"t":273.8,"v":1190},{"f":16,"t":283.8,"v":1040},{"f":16,"t":293.8,"v":965},{"f":16,"t":295.8,"v":1040},
{"f":17,"t":0.8,"v":0},{"f":17,"t":165.8,"v":0},{"f":17,"t":166.8,"v":1115},{"f":17,"t":175.8,"v":965},{"f":17,"t":185.8,"v":1190},{"f":17,"t":195.8,"v":1040},{"f":17,"t":205.8,"v":890},{"f":17,"t":215.8,"v":1265},{"f":17,"t":225.8,"v":1040},{"f":17,"t":235.8,"v":1115},{"f":17,"t":245.8,"v":890},{"f":17,"t":255.8,"v":1190},{"f":17,"t":265.8,"v":1040},{"f":17,"t":275.8,"v":1265},{"f":17,"t":285.8,"v":965},{"f":17,"t":295.8,"v":1040},
{"f":18,"t":0.8,"v":0},{"f":18,"t":175.8,"v":0},{"f":18,"t":176.8,"v":1040},{"f":18,"t":187.8,"v":1115},{"f":18,"t":197.8,"v":965},{"f":18,"t":207.8,"v":1190},{"f":18,"t":217.8,"v":1040},{"f":18,"t":227.8,"v":965},{"f":18,"t":237.8,"v":1265},{"f":18,"t":247.8,"v":1040},{"f":18,"t":257.8,"v":1115},{"f":18,"t":267.8,"v":890},{"f":18,"t":277.8,"v":1190},{"f":18,"t":287.8,"v":1115},{"f":18,"t":295.8,"v":1040},
{"f":19,"t":0.8,"v":0},{"f":19,"t":185.8,"v":0},{"f":19,"t":186.8,"v":965},{"f":19,"t":192.8,"v":1190},{"f":19,"t":202.8,"v":1040},{"f":19,"t":212.8,"v":965},{"f":19,"t":222.8,"v":1190},{"f":19,"t":232.8,"v":1040},{"f":19,"t":242.8,"v":1265},{"f":19,"t":252.8,"v":965},{"f":19,"t":262.8,"v":1115},{"f":19,"t":272.8,"v":1040},{"f":19,"t":282.8,"v":1265},{"f":19,"t":292.8,"v":965},{"f":19,"t":295.8,"v":1040},
{"f":20,"t":0.8,"v":0},{"f":20,"t":195.8,"v":0},{"f":20,"t":196.8,"v":1040},{"f":20,"t":204.8,"v":1190},{"f":20,"t":214.8,"v":965},{"f":20,"t":224.8,"v":1115},{"f":20,"t":234.8,"v":1190},{"f":20,"t":244.8,"v":965},{"f":20,"t":254.8,"v":1115},{"f":20,"t":264.8,"v":1190},{"f":20,"t":274.8,"v":965},{"f":20,"t":284.8,"v":1115},{"f":20,"t":294.8,"v":1190},{"f":20,"t":295.8,"v":1040}
],
"corner": [{"t": 0, "v": 30000}]
},
"encoding": {
  "x": {"field": "t", "type": "quantitative", "scale": {"domain": [0, 300], "nice": false, "zero": false},
        "axis": {"title": "Time (s)", "values": [0, 50, 100, 150, 200, 250, 300], "labelPadding": 24, "titlePadding": 6}},
  "y": {"field": "v", "type": "quantitative", "scale": {"domain": [0, 30000], "nice": false},
        "axis": {"title": "Individual Throughput (kbps)", "values": [0, 5000, 10000, 15000, 20000, 25000, 30000], "labelExpr": "datum.value / 10000", "labelPadding": 20, "titlePadding": 15}}
},
"layer": [
  {"data": {"name": "up"},
   "mark": {"type": "line", "strokeWidth": 1.4, "strokeCap": "butt", "interpolate": "linear"},
   "encoding": {
     "detail": {"field": "f", "type": "nominal"},
     "order": {"field": "t", "type": "quantitative"},
     "color": {"datum": "Uplink", "type": "nominal",
       "scale": {"domain": ["Uplink", "Downlink"], "range": ["#ff0000", "#0000ff"]},
       "legend": {"title": "\u00a0", "titleOrient": "right", "titleFontSize": 8, "titlePadding": 11, "orient": "none", "legendX": 1055, "legendY": 16, "strokeColor": "black", "fillColor": "white", "padding": 2, "rowPadding": 0, "labelFont": "Liberation Sans", "labelFontSize": 22, "labelColor": "black", "symbolType": "M-1.5,0H1.5", "symbolSize": 625, "symbolOffset": 15, "labelOffset": 18, "symbolStrokeWidth": 1.4}},
     "strokeDash": {"datum": "Uplink", "type": "nominal",
       "scale": {"domain": ["Uplink", "Downlink"], "range": [[1.4, 5], [1, 0]]},
       "legend": {"title": "\u00a0", "titleOrient": "right", "titleFontSize": 8, "titlePadding": 11, "orient": "none", "legendX": 1055, "legendY": 16, "strokeColor": "black", "fillColor": "white", "padding": 2, "rowPadding": 0, "labelFont": "Liberation Sans", "labelFontSize": 22, "labelColor": "black", "symbolType": "M-1.5,0H1.5", "symbolSize": 625, "symbolOffset": 15, "labelOffset": 18, "symbolStrokeWidth": 1.4}}
   }},
  {"data": {"name": "down"},
   "mark": {"type": "line", "strokeWidth": 1.4, "interpolate": "linear"},
   "encoding": {
     "detail": {"field": "f", "type": "nominal"},
     "order": {"field": "t", "type": "quantitative"},
     "color": {"datum": "Downlink", "type": "nominal"},
     "strokeDash": {"datum": "Downlink", "type": "nominal"}
   }},
  {"data": {"name": "corner"},
   "mark": {"type": "text", "text": "x 10", "font": "Liberation Sans", "fontSize": 27, "align": "left", "baseline": "alphabetic", "dx": 0, "dy": -12, "color": "black"}},
  {"data": {"name": "corner"},
   "mark": {"type": "text", "text": "4", "font": "Liberation Sans", "fontSize": 18, "align": "left", "baseline": "alphabetic", "dx": 51, "dy": -30, "color": "black"}}
]
}
